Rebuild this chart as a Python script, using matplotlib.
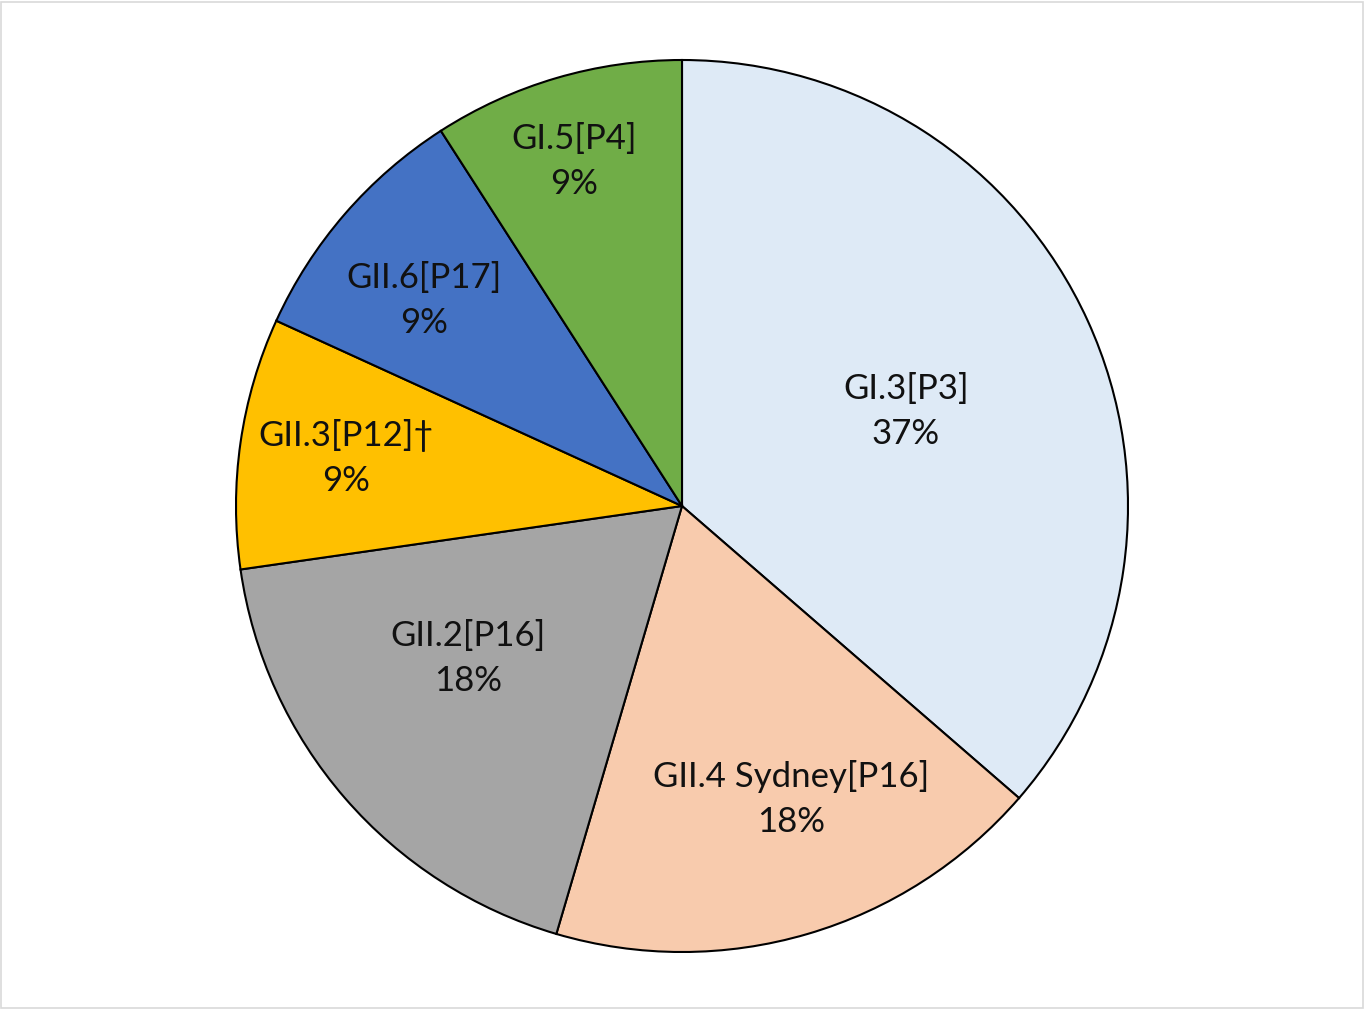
import numpy as np
import matplotlib
matplotlib.use('Agg')
import matplotlib.pyplot as plt
from matplotlib.patches import Rectangle

# genotype share (counts out of 11), percentages as printed on the chart
genotypes = ['GI.3[P3]', 'GII.4 Sydney[P16]', 'GII.2[P16]', 'GII.3[P12]\u2020', 'GII.6[P17]', 'GI.5[P4]']
counts = [4, 2, 2, 1, 1, 1]
pct_labels = ['37%', '18%', '18%', '9%', '9%', '9%']
colors = ['#DEEAF6', '#F8CBAD', '#A5A5A5', '#FFC000', '#4472C4', '#70AD47']
# label placement: fraction of radius, angle nudge (deg) from slice middle
label_dist = [0.545, 0.70, 0.59, 0.76, 0.74, 0.81]
label_nudge = [-1.7, 4.0, -5.4, 0.0, 2.4, 1.0]

plt.rcParams['font.family'] = ['Lato', 'DejaVu Sans']

fig = plt.figure(figsize=(13.64, 10.09), dpi=100)
cx, cy, r = 682, 1009 - 506, 446
ax = fig.add_axes([(cx - r) / 1364, (cy - r) / 1009, 2 * r / 1364, 2 * r / 1009])

wedges, _ = ax.pie(counts, colors=colors, startangle=90, counterclock=False, radius=1,
                   wedgeprops=dict(edgecolor='black', linewidth=1.5))
ax.set_xlim(-1, 1)
ax.set_ylim(-1, 1)
ax.set_aspect('equal')
ax.axis('off')

for w, name, pct, d, nudge in zip(wedges, genotypes, pct_labels, label_dist, label_nudge):
    ang = np.deg2rad((w.theta1 + w.theta2) / 2 + nudge)
    ax.text(d * np.cos(ang), d * np.sin(ang), f'{name}\n{pct}', ha='center', va='center',
            fontsize=25, linespacing=1.5, color='#111111')

fig.patches.append(Rectangle((0.001, 0.001), 0.998, 0.997, transform=fig.transFigure,
                             fill=False, edgecolor='#d9d9d9', linewidth=1.2))

fig.savefig('out.png', dpi=100, facecolor='white')
